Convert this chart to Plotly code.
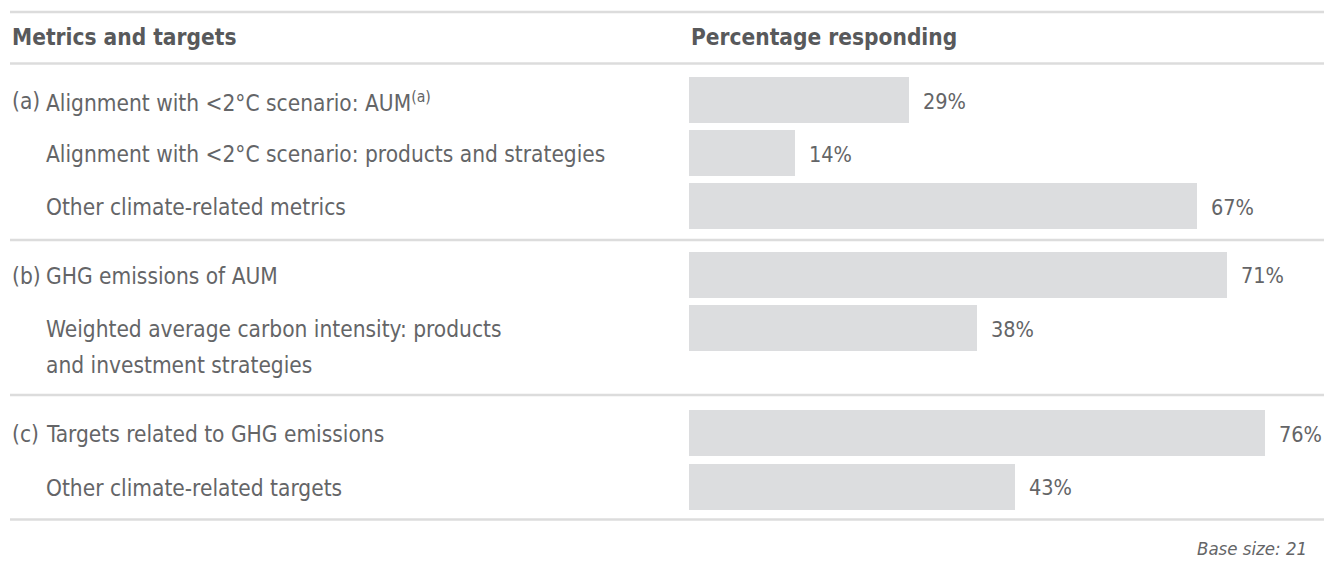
import plotly.graph_objects as go

# --- data -------------------------------------------------------------
group_prefixes = ["(a)", "(b)", "(c)"]
group_items = [
    ["Alignment with &lt;2°C scenario: AUM<sup>(a)</sup>",
     "Alignment with &lt;2°C scenario: products and strategies",
     "Other climate-related metrics"],
    ["GHG emissions of AUM",
     "Weighted average carbon intensity: products<br>and investment strategies"],
    ["Targets related to GHG emissions",
     "Other climate-related targets"],
]
group_values = [
    [29, 14, 67],
    [71, 38],
    [76, 43],
]
header_left = "Metrics and targets"
header_right = "Percentage responding"
footnote = "Base size: 21"

# --- layout constants (pixel space of the 1336x566 page) --------------
W, H = 1336, 566
BAR_LEFT = 689
PX_PER_PCT = 7.58
ROW0 = 100
PITCH = 53.2
GROUP_GAPS = [15.3, 52.0]
BAR_H = 46
LINE_STEP = 36
TOP_RULE, HEAD_RULE, BOTTOM_RULE = 12, 63.5, 519.5
RULE_X0, RULE_X1 = 10, 1324
PREFIX_X, LABEL_X = 10, 44

TEXT = "#646567"
HEAD = "#58595b"
BAR = "#dcdddf"
RULE = "#dcdcdc"
FONT = "DejaVu Sans Condensed, DejaVu Sans, sans-serif"
LABEL_SIZE = 22.5
VALUE_SIZE = 21.5

# row centres, computed from the layout constants
row_y, labels, values, prefixes = [], [], [], []
y = ROW0
for g, (items, vals) in enumerate(zip(group_items, group_values)):
    if g > 0:
        y += GROUP_GAPS[g - 1]
    for i, (lab, v) in enumerate(zip(items, vals)):
        row_y.append(y)
        labels.append(lab)
        values.append(v)
        prefixes.append(group_prefixes[g] if i == 0 else "")
        y += PITCH

fig = go.Figure()
fig.add_trace(go.Bar(
    x=values, y=row_y, orientation="h", width=BAR_H,
    marker=dict(color=BAR, line=dict(width=0)),
    hoverinfo="skip", showlegend=False,
))


def text_ann(x, y, text, size, color, xanchor="left", xref="paper", **kw):
    return dict(x=x, y=y, xref=xref, yref="y", text=text, showarrow=False,
                xanchor=xanchor, yanchor="middle",
                font=dict(size=size, color=color, family=FONT), **kw)


x_max = (W - BAR_LEFT) / PX_PER_PCT
ann = []
for yy, lab, v, pre in zip(row_y, labels, values, prefixes):
    if pre:
        ann.append(text_ann(PREFIX_X, yy + 1, pre, LABEL_SIZE, TEXT))
    # wrapped labels: each line placed one step below the previous
    for k, line in enumerate(lab.split("<br>")):
        ann.append(text_ann(LABEL_X, yy + 1 + k * LINE_STEP, line, LABEL_SIZE, TEXT))
    ann.append(text_ann(v, yy + 1, f"{v}%", VALUE_SIZE, TEXT, xref="x", xshift=12))

head_y = (TOP_RULE + HEAD_RULE) / 2 - 1
ann.append(text_ann(PREFIX_X, head_y, f"<b>{header_left}</b>", LABEL_SIZE, HEAD))
ann.append(text_ann(BAR_LEFT, head_y, f"<b>{header_right}</b>", LABEL_SIZE, HEAD))
ann.append(text_ann(1309, 548, f"<i>{footnote}</i>", 18.5, TEXT, xanchor="right"))

# horizontal rules: top, under header, between groups, bottom
rules = [TOP_RULE, HEAD_RULE, 240, 395, BOTTOM_RULE]
shapes = [dict(type="line", xref="paper", yref="y", x0=RULE_X0 / W, x1=RULE_X1 / W,
               y0=r, y1=r, line=dict(color=RULE, width=2.5)) for r in rules]

# paper-anchored text uses pixel x; convert to paper fraction
for a in ann:
    if a["xref"] == "paper":
        a["x"] = a["x"] / W

fig.update_layout(
    width=W, height=H,
    margin=dict(l=0, r=0, t=0, b=0),
    paper_bgcolor="white", plot_bgcolor="white",
    xaxis=dict(domain=[BAR_LEFT / W, 1], range=[0, x_max], visible=False, fixedrange=True),
    yaxis=dict(domain=[0, 1], range=[H, 0], visible=False, fixedrange=True),
    annotations=ann, shapes=shapes,
    bargap=0,
)

fig.write_html("out.html")
